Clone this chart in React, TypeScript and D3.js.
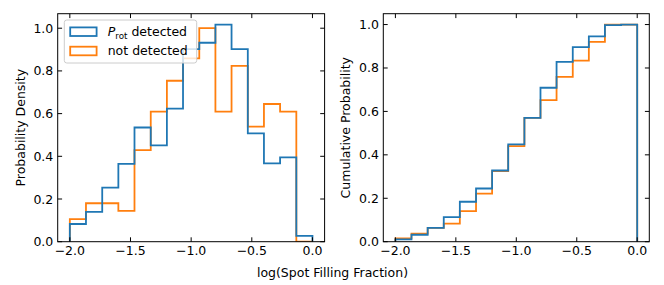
import * as d3 from 'd3'

// histogram bin edges (log spot filling fraction)
const binEdges = [-2.0, -1.867, -1.733, -1.6, -1.467, -1.333, -1.2, -1.067, -0.933, -0.8, -0.667, -0.533, -0.4, -0.267, -0.133, 0.0]

// left panel: normalised histograms
const detectedDensity = [0.083, 0.14, 0.253, 0.365, 0.535, 0.451, 0.623, 0.902, 0.932, 1.017, 0.902, 0.507, 0.367, 0.395, 0.027]
const notDetectedDensity = [0.106, 0.18, 0.18, 0.144, 0.429, 0.609, 0.754, 0.859, 1.0, 0.609, 0.824, 0.539, 0.645, 0.609, 0]

// right panel: cumulative
const detectedCum = [0.011, 0.032, 0.064, 0.113, 0.184, 0.245, 0.328, 0.448, 0.57, 0.709, 0.828, 0.896, 0.946, 0.997, 1.0]
const notDetectedCum = [0.015, 0.037, 0.064, 0.083, 0.141, 0.221, 0.325, 0.44, 0.57, 0.652, 0.759, 0.834, 0.92, 1.0, 1.0]

const xTicks = [-2.0, -1.5, -1.0, -0.5, 0.0]
const yTicks = [0, 0.2, 0.4, 0.6, 0.8, 1.0]

const BLUE = '#1f77b4'
const ORANGE = '#ff7f0e'
const FONT = 'DejaVu Sans'
const FS = 12.5
const TICK = 4.4

const fmt = (v: number) => d3.format('.1f')(v).replace('-', '\u2212')

function stepPath(vals: number[], x: d3.ScaleLinear<number, number>, y: d3.ScaleLinear<number, number>) {
  const p = d3.path()
  p.moveTo(x(binEdges[0]), y(0))
  vals.forEach((v, i) => {
    p.lineTo(x(binEdges[i]), y(v))
    p.lineTo(x(binEdges[i + 1]), y(v))
  })
  p.lineTo(x(binEdges[binEdges.length - 1]), y(0))
  return p.toString()
}

function Panel({ left, right, top, bottom, yMax, series, ylabel, ylabelX, legend }: {
  left: number; right: number; top: number; bottom: number; yMax: number
  series: { vals: number[]; color: string }[]
  ylabel: string; ylabelX: number; legend?: boolean
}) {
  const x = d3.scaleLinear().domain([-2.1, 0.1]).range([left, right])
  const y = d3.scaleLinear().domain([0, yMax]).range([bottom, top])
  const cid = `clip${Math.round(left)}`
  return (
    <g>
      <defs>
        <clipPath id={cid}><rect x={left} y={top} width={right - left} height={bottom - top} /></clipPath>
      </defs>
      <g clipPath={`url(#${cid})`}>
        {series.map((s, i) => (
          <path key={i} d={stepPath(s.vals, x, y)} fill="none" stroke={s.color} strokeWidth={1.8} strokeLinejoin="miter" />
        ))}
      </g>
      <rect x={left} y={top} width={right - left} height={bottom - top} fill="none" stroke="#000" strokeWidth={1} />
      {xTicks.map(t => (
        <g key={t}>
          <line x1={x(t)} x2={x(t)} y1={bottom} y2={bottom - TICK} stroke="#000" />
          <line x1={x(t)} x2={x(t)} y1={top} y2={top + TICK} stroke="#000" />
          <text x={x(t)} y={bottom + 4.4 + 0.74 * FS} textAnchor="middle" fontSize={FS} fontFamily={FONT}>{fmt(t)}</text>
        </g>
      ))}
      {yTicks.map(t => (
        <g key={t}>
          <line x1={left} x2={left + TICK} y1={y(t)} y2={y(t)} stroke="#000" />
          <line x1={right} x2={right - TICK} y1={y(t)} y2={y(t)} stroke="#000" />
          <text x={left - 4.4} y={y(t) + 0.36 * FS} textAnchor="end" fontSize={FS} fontFamily={FONT}>{fmt(t)}</text>
        </g>
      ))}
      <text transform={`translate(${ylabelX},${(top + bottom) / 2}) rotate(-90)`} y={0.36 * FS} textAnchor="middle" fontSize={FS} fontFamily={FONT}>{ylabel}</text>
      {legend && (
        <g>
          <rect x={64.3} y={20} width={132.4} height={43} rx={2.5} fill="#fff" fillOpacity={0.8} stroke="#cccccc" strokeWidth={1} />
          <rect x={70.2} y={27.4} width={26.4} height={8.6} fill="none" stroke={BLUE} strokeWidth={1.8} />
          <rect x={70.2} y={46.7} width={26.4} height={8.6} fill="none" stroke={ORANGE} strokeWidth={1.8} />
          <text x={107.7} y={36} fontSize={FS} fontFamily={FONT}>
            <tspan fontStyle="italic">P</tspan>
            <tspan fontSize={FS * 0.7} dy={2.5}>rot</tspan>
            <tspan dy={-2.5}> detected</tspan>
          </text>
          <text x={107.7} y={55.3} fontSize={FS} fontFamily={FONT}>not detected</text>
        </g>
      )}
    </g>
  )
}

export default function App() {
  const top = 13.7, bottom = 241.7
  return (
    <div style={{ position: 'absolute', left: 0, top: 0 }}>
      <svg width={664} height={285} viewBox="0 0 664 285" style={{ display: 'block', background: '#fff' }}>
        <Panel left={57.7} right={324.6} top={top} bottom={bottom} yMax={1.068}
          series={[{ vals: notDetectedDensity, color: ORANGE }, { vals: detectedDensity, color: BLUE }]}
          ylabel="Probability Density" ylabelX={20} legend />
        <Panel left={383.3} right={649.3} top={top} bottom={bottom} yMax={1.05}
          series={[{ vals: notDetectedCum, color: ORANGE }, { vals: detectedCum, color: BLUE }]}
          ylabel="Cumulative Probability" ylabelX={345} />
        <text x={332.5} y={276.5} textAnchor="middle" fontSize={FS} fontFamily={FONT}>log(Spot Filling Fraction)</text>
      </svg>
    </div>
  )
}
